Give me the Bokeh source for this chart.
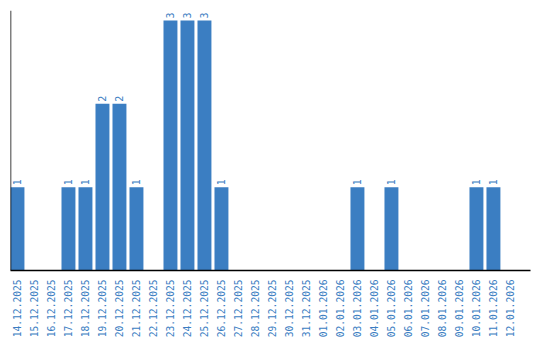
import math
from bokeh.plotting import figure
from bokeh.models import ColumnDataSource, Span, Range1d, FixedTicker
from bokeh.core.properties import value
from bokeh.embed import file_html
from bokeh.resources import INLINE

dates = ["14.12.2025", "15.12.2025", "16.12.2025", "17.12.2025", "18.12.2025",
         "19.12.2025", "20.12.2025", "21.12.2025", "22.12.2025", "23.12.2025",
         "24.12.2025", "25.12.2025", "26.12.2025", "27.12.2025", "28.12.2025",
         "29.12.2025", "30.12.2025", "31.12.2025", "01.01.2026", "02.01.2026",
         "03.01.2026", "04.01.2026", "05.01.2026", "06.01.2026", "07.01.2026",
         "08.01.2026", "09.01.2026", "10.01.2026", "11.01.2026", "12.01.2026"]
counts = [1, 0, 0, 1, 1, 2, 2, 1, 0, 3, 3, 3, 1, 0, 0, 0, 0, 0, 0, 0,
          1, 0, 1, 0, 0, 0, 0, 1, 1, 0]

BLUE = "#3b7ec2"
FONT = "DejaVu Sans Mono"

xs = list(range(len(dates)))
src = ColumnDataSource(dict(x=xs, y=counts))
lab_idx = [i for i, c in enumerate(counts) if c > 0]
lab_src = ColumnDataSource(dict(x=[xs[i] for i in lab_idx],
                                y=[counts[i] for i in lab_idx],
                                label=[str(counts[i]) for i in lab_idx]))

p = figure(width=540, height=340, output_backend="svg", toolbar_location=None,
           x_range=Range1d(-0.41, 30.18), y_range=Range1d(0, 3.12),
           min_border_left=10, min_border_right=10, min_border_top=10,
           min_border_bottom=0)
p.outline_line_color = None
p.xgrid.visible = False
p.ygrid.visible = False
p.yaxis.visible = False

p.vbar(x="x", top="y", width=0.82, source=src, color=BLUE, line_color=None)
p.text(x="x", y="y", text="label", source=lab_src, angle=math.pi / 2,
       x_offset=0, y_offset=-2, text_align="left", text_baseline="middle",
       text_color=BLUE, text_font=value(FONT), text_font_size="10px")

p.add_layout(Span(location=-0.41, dimension="height", line_color="black", line_width=1.5))

ax = p.xaxis[0]
ax.ticker = FixedTicker(ticks=xs)
ax.major_label_overrides = {i: d for i, d in enumerate(dates)}
ax.major_label_orientation = math.pi / 2
ax.major_label_text_color = BLUE
ax.major_label_text_font = FONT
ax.major_label_text_font_size = "9.6px"
ax.major_label_standoff = 3
ax.major_tick_line_color = None
ax.minor_tick_line_color = None
ax.axis_line_color = "black"
ax.axis_line_width = 1.5

open("out.html", "w").write(file_html(p, INLINE))
